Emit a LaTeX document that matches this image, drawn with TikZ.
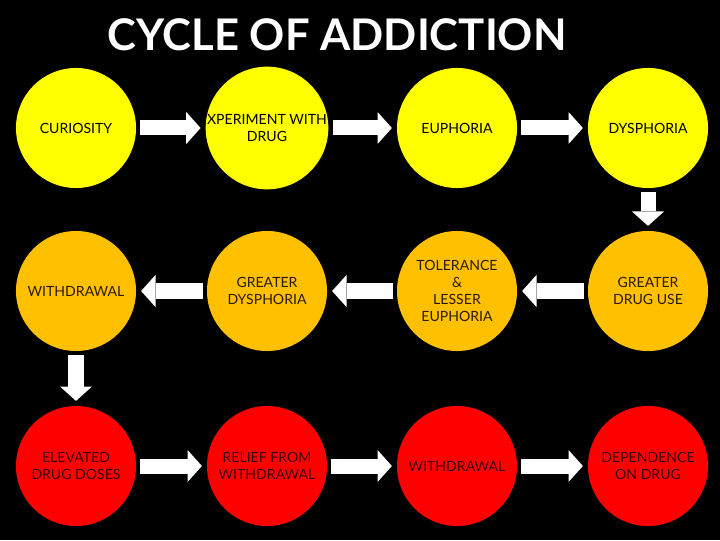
\documentclass[tikz,border=0pt]{standalone}
\usepackage{fontspec}
\setmainfont{Lato}
\usetikzlibrary{arrows.meta}
\definecolor{stageyellow}{HTML}{FFFF00}
\definecolor{stageorange}{HTML}{FFC000}
\definecolor{stagered}{HTML}{FF0000}
\definecolor{orangetext}{HTML}{2B1A00}
\definecolor{redtext}{HTML}{3A0000}
\tikzset{
  stage/.style={circle,minimum size=3cm,inner sep=0pt,align=center,font=\fontsize{10}{12}\selectfont},
  yel/.style={stage,fill=stageyellow,text=black},
  ora/.style={stage,fill=stageorange,text=orangetext},
  rd/.style={stage,fill=stagered,text=redtext},
  blockarrow/.style={white,line width=0.375cm,-{Triangle[length=0.36cm,width=0.8cm,line width=0pt]},shorten <=0.1cm,shorten >=0.12cm}
}
\begin{document}
\begin{tikzpicture}[x=0.025cm,y=0.025cm]
\fill[black](0,0)rectangle(720,540);
\useasboundingbox(0,0)rectangle(720,540);

\node[text=white,font=\fontsize{31}{36}\bfseries](title)at(337,505){CYCLE OF ADDICTION};

% top row
\node[yel](cur)at(76,412){CURIOSITY};
\node[yel](exp)at(267,412){XPERIMENT WITH\\DRUG};
\node[yel](eup)at(457,412){EUPHORIA};
\node[yel](dys)at(648,412){DYSPHORIA};

% middle row
\node[ora](wd)at(76,249){WITHDRAWAL};
\node[ora](gdy)at(267,249){GREATER\\DYSPHORIA};
\node[ora](tol)at(457,249){TOLERANCE\\\&\\LESSER\\EUPHORIA};
\node[ora](gdu)at(648,249){GREATER\\DRUG USE};

% bottom row
\node[rd](ele)at(76,74){ELEVATED\\DRUG DOSES};
\node[rd](rel)at(267,74){RELIEF FROM\\WITHDRAWAL};
\node[rd](wdr)at(457,74){WITHDRAWAL};
\node[rd](dep)at(648,74){DEPENDENCE\\ON DRUG};

\foreach \a/\b in {cur/exp,exp/eup,eup/dys,dys/gdu,gdu/tol,tol/gdy,gdy/wd,wd/ele,ele/rel,rel/wdr,wdr/dep}{
  \draw[blockarrow](\a)--(\b);}

\end{tikzpicture}
\end{document}
